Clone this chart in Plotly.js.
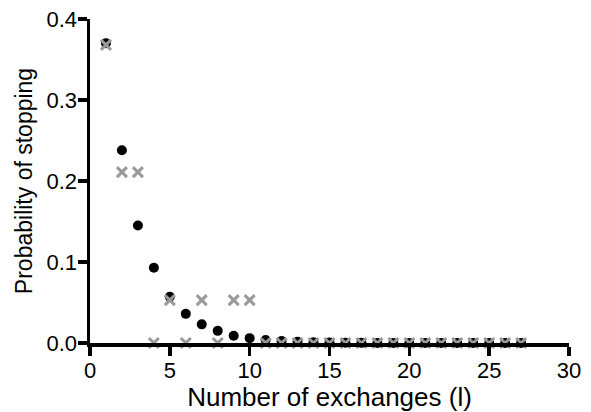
<!DOCTYPE html>
<html><head><meta charset="utf-8">
<script src="https://cdn.plot.ly/plotly-3.0.1.min.js"></script>
<style>html,body{margin:0;padding:0;background:#fff}#c{width:591px;height:412px}</style>
</head><body><div id="c"></div>
<script>
var exchanges = [1,2,3,4,5,6,7,8,9,10,11,12,13,14,15,16,17,18,19,20,21,22,23,24,25,26,27];
var modelProb = [0.370,0.238,0.145,0.093,0.057,0.036,0.023,0.015,0.009,0.006,0.0037,0.0024,0.0015,0.001,0.0006,0.0004,0.0002,0.0001,0.0001,0,0,0,0,0,0,0,0];
var observedProb = [0.368,0.211,0.211,0,0.053,0,0.053,0,0.053,0.053,0,0,0,0,0,0,0,0,0,0,0,0,0,0,0,0,0];
var xTicks = [0,5,10,15,20,25,30];
var yTicks = [0,0.1,0.2,0.3,0.4];
var yTickText = ["0.0","0.1","0.2","0.3","0.4"];

var traces = [
  {x: exchanges, y: modelProb, type:'scatter', mode:'markers', cliponaxis:false,
   marker:{symbol:'circle', size:10, color:'#000'}},
  {x: exchanges, y: observedProb, type:'scatter', mode:'markers', cliponaxis:false,
   marker:{symbol:'x-thin', size:10, color:'#999', line:{color:'#999', width:3}}}
];
var fam = '"Liberation Sans", Arial, sans-serif';
var layout = {
  width:591, height:412, showlegend:false,
  margin:{l:90, r:22, t:19, b:69},
  paper_bgcolor:'#fff', plot_bgcolor:'#fff',
  font: {family:fam, color:'#000'},
  xaxis:{range:[0,30], tickvals:xTicks, ticktext:xTicks.map(String), showgrid:false, zeroline:false,
    showline:true, linewidth:3.5, linecolor:'#000', ticks:'outside', ticklen:9, tickwidth:3.5, tickcolor:'#000',
    ticklabelstandoff:-4,
    tickfont:{family:fam, size:22, color:'#000'},
    title:{text:'Number of exchanges (l)', font:{family:fam, size:26, color:'#000'}, standoff:8}},
  yaxis:{range:[0,0.4], tickvals:yTicks, ticktext:yTickText, showgrid:false, zeroline:false,
    showline:true, linewidth:3.5, linecolor:'#000', ticks:'outside', ticklen:9, tickwidth:3.5, tickcolor:'#000',
    ticklabelstandoff:-4,
    tickfont:{family:fam, size:22, color:'#000'},
    title:{text:'Probability of stopping', font:{family:fam, size:23, color:'#000'}, standoff:8}}
};
Plotly.newPlot('c', traces, layout, {displayModeBar:false, staticPlot:true});
</script></body></html>
